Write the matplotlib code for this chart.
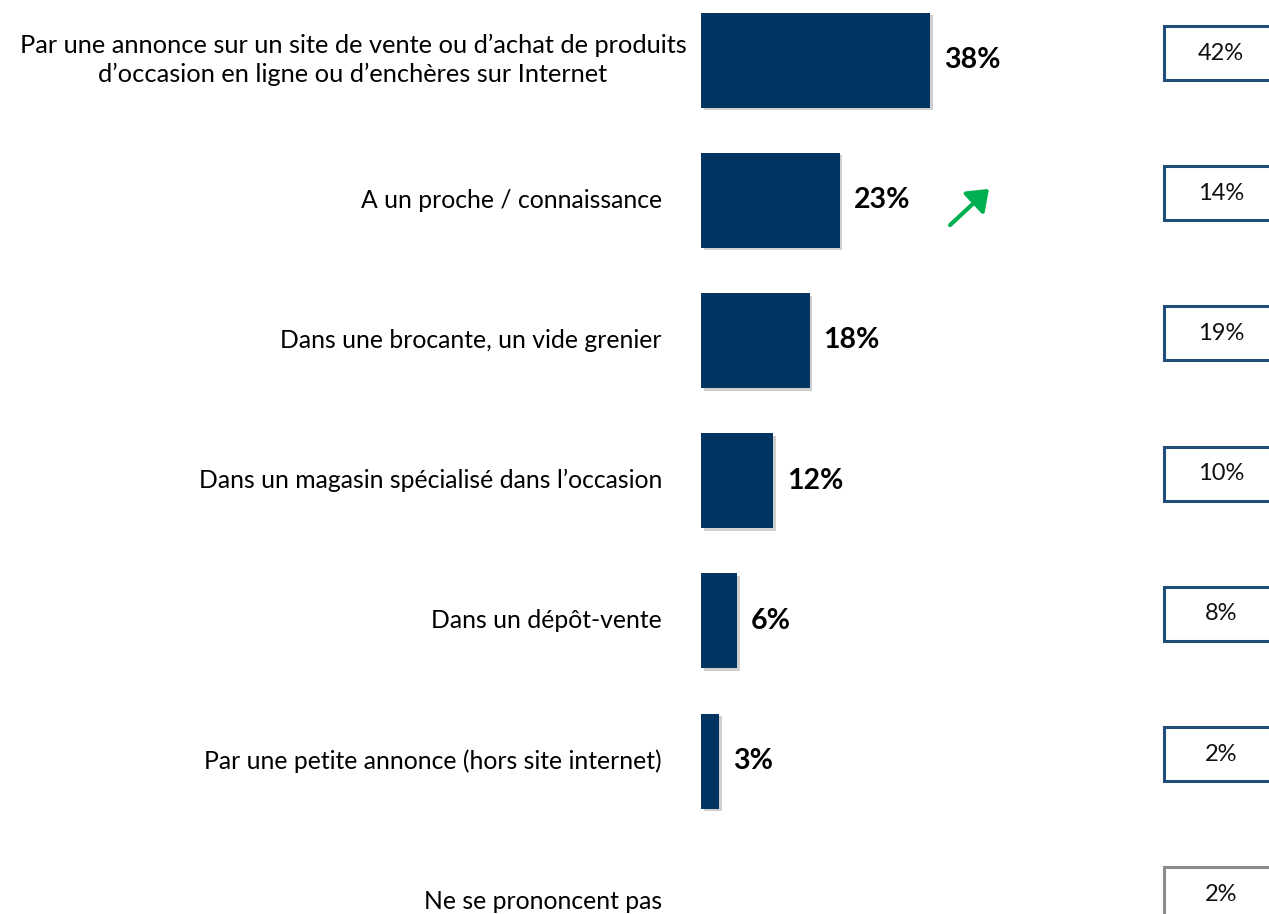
import matplotlib
matplotlib.use("Agg")
import matplotlib.pyplot as plt
import matplotlib.patheffects as pe
from matplotlib.patches import Rectangle, FancyArrowPatch
from matplotlib.transforms import blended_transform_factory

categories = [
    "Par une annonce sur un site de vente ou d\u2019achat de produits\nd\u2019occasion en ligne ou d\u2019ench\u00e8res sur Internet",
    "A un proche / connaissance",
    "Dans une brocante, un vide grenier",
    "Dans un magasin sp\u00e9cialis\u00e9 dans l\u2019occasion",
    "Dans un d\u00e9p\u00f4t-vente",
    "Par une petite annonce (hors site internet)",
    "Ne se prononcent pas",
]
values = [38, 23, 18, 12, 6, 3, 0]
previous = ["42%", "14%", "19%", "10%", "8%", "2%", "2%"]
box_colors = ["#1F4E79"] * 6 + ["#8C8C8C"]

W, H = 1269, 914
fig = plt.figure(figsize=(W / 100, H / 100), dpi=100)
px = 6.03  # pixels per percent
left_px = 701
ax = fig.add_axes([left_px / W, 0, 1 - left_px / W, 1])
ax.set_xlim(0, (W - left_px) / px)
row_px = 140.2
top_px = 60
ax.set_ylim((H - top_px) / row_px, -top_px / row_px)
ax.axis("off")

font = "Lato"
bar_color = "#023461"
ypos = list(range(len(categories)))
bars = ax.barh(ypos, values, height=95 / row_px, color=bar_color, zorder=3)
for b in bars:
    b.set_path_effects([pe.SimplePatchShadow(offset=(2, -2), shadow_rgbFace="#777777", alpha=0.35), pe.Normal()])

for y, v in zip(ypos, values):
    if v > 0:
        ax.annotate(f"{v}%", xy=(v, y), xytext=(10, 0), textcoords="offset points",
                    ha="left", va="center", fontsize=20.5, fontweight="bold",
                    family=font, color="black")

tr = blended_transform_factory(fig.transFigure, ax.transData)
for i, (y, c) in enumerate(zip(ypos, categories)):
    if i == 0:
        fig.text(353 / W, y, c, transform=tr, ha="center", va="center", fontsize=18.3,
                 family=font, linespacing=1.32, multialignment="center")
    else:
        fig.text(662 / W, y, c, transform=tr, ha="right", va="center", fontsize=17.8, family=font)

# previous-wave boxes
box_h = 54 / row_px
box_off = -7 / row_px
bx = (1164 - left_px) / px
bw = 200 / px
for y, p, col in zip(ypos, previous, box_colors):
    r = Rectangle((bx, y + box_off - box_h / 2), bw, box_h, facecolor="white",
                  edgecolor=col, linewidth=2.2, zorder=2, clip_on=False)
    ax.add_patch(r)
    ax.text((1221 - left_px) / px, y + box_off, p, ha="center", va="center",
            fontsize=17, family=font, color="#111111")

# trend arrow
arr = FancyArrowPatch(((948 - left_px) / px, (227 - top_px) / row_px),
                      ((991 - left_px) / px, (187 - top_px) / row_px),
                      arrowstyle="-|>,head_length=6,head_width=4.5", color="#00B050",
                      linewidth=3, mutation_scale=2, zorder=4)
ax.add_patch(arr)

fig.savefig("out.png", dpi=100)
